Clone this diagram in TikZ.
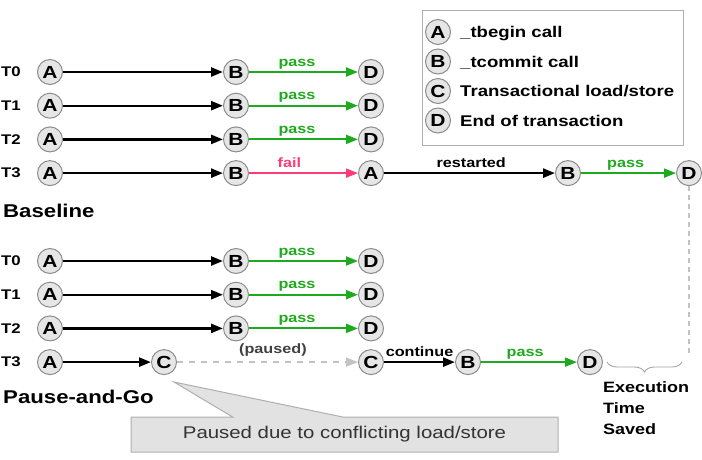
\documentclass[tikz,border=0pt]{standalone}
\usepackage{fontspec}
\setmainfont{Liberation Sans}[FakeStretch=1.2]
\usepackage{xcolor}
\definecolor{pgreen}{RGB}{30,170,30}
\definecolor{fpink}{RGB}{250,60,120}
\definecolor{nfill}{RGB}{230,230,230}
\definecolor{nline}{RGB}{140,140,140}
\definecolor{pgray}{RGB}{195,195,195}
\definecolor{cfill}{RGB}{226,226,226}
\usepackage{tikz}
\usetikzlibrary{arrows.meta,shapes.callouts,positioning,decorations.pathreplacing}

\begin{document}
\begin{tikzpicture}[
  x=1pt,y=-1pt,
  tnode/.style={circle,draw=nline,fill=nfill,line width=1pt,minimum size=25pt,inner sep=0pt,on grid,font=\bfseries\fontsize{17.5}{18}\selectfont},
  run/.style={-{Triangle[length=12pt,width=9pt]},line width=2.4pt,black},
  ok/.style={run,pgreen,line width=2pt},
  bad/.style={run,fpink,line width=2pt},
  wait/.style={-{Triangle[length=12pt,width=9pt]},line width=1.4pt,pgray,dash pattern=on 6pt off 6pt},
  lbl/.style={anchor=base,yshift=6pt,inner sep=0pt,font=\bfseries\fontsize{13.5}{14}\selectfont},
  tlabel/.style={anchor=west,inner sep=0pt,font=\bfseries\fontsize{14}{14}\selectfont},
  heading/.style={anchor=base west,inner sep=0pt,font=\bfseries\fontsize{18.5}{19}\selectfont},
  keytext/.style={anchor=west,inner sep=0pt,text height=11.5pt,text depth=0.5pt,font=\bfseries\fontsize{15.5}{16}\selectfont},
  guide/.style={pgray,line width=1.3pt,dash pattern=on 5pt off 4pt}
]
  \useasboundingbox (0,0) rectangle (702,459);

  \node[tlabel] (l0) at (1,72) {T0};
  \node[tlabel] (l1) at (1,105.7) {T1};
  \node[tlabel] (l2) at (1,139.4) {T2};
  \node[tlabel] (l3) at (1,173.1) {T3};

  \node[tnode] (a0) at (50,72) {A};
  \node[tnode,right=186pt of a0] (b0) {B};
  \node[tnode,right=135pt of b0] (d0) {D};
  \node[tnode,below=33.7pt of a0] (a1) {A};
  \node[tnode,right=186pt of a1] (b1) {B};
  \node[tnode,right=135pt of b1] (d1) {D};
  \node[tnode,below=33.7pt of a1] (a2) {A};
  \node[tnode,right=186pt of a2] (b2) {B};
  \node[tnode,right=135pt of b2] (d2) {D};
  \node[tnode,below=33.7pt of a2] (a3) {A};
  \node[tnode,right=186pt of a3] (b3) {B};
  \node[tnode,right=135pt of b3] (r3) {A};
  \node[tnode,right=197pt of r3] (rb3) {B};
  \node[tnode,right=121pt of rb3] (rd3) {D};

  \node[heading] (base) at (3,217) {Baseline};

  \node[tlabel] (pl0) at (1,261) {T0};
  \node[tlabel] (pl1) at (1,294.7) {T1};
  \node[tlabel] (pl2) at (1,328.4) {T2};
  \node[tlabel] (pl3) at (1,362.1) {T3};

  \node[tnode] (pa0) at (50,261) {A};
  \node[tnode,right=186pt of pa0] (pb0) {B};
  \node[tnode,right=135pt of pb0] (pd0) {D};
  \node[tnode,below=33.7pt of pa0] (pa1) {A};
  \node[tnode,right=186pt of pa1] (pb1) {B};
  \node[tnode,right=135pt of pb1] (pd1) {D};
  \node[tnode,below=33.7pt of pa1] (pa2) {A};
  \node[tnode,right=186pt of pa2] (pb2) {B};
  \node[tnode,right=135pt of pb2] (pd2) {D};
  \node[tnode,below=33.7pt of pa2] (pa3) {A};
  \node[tnode,right=114pt of pa3] (pc3) {C};
  \node[tnode,right=207pt of pc3] (pq3) {C};
  \node[tnode,right=97pt of pq3] (pb3) {B};
  \node[tnode,right=122pt of pb3] (pd3) {D};

  \node[heading] (pause) at (3,403) {Pause-and-Go};

  \draw[draw=nline!70,line width=1pt] (422,10) rectangle (683,145);
  \node[tnode] (ka) at (438,32) {A};
  \node[tnode,below=29.5pt of ka] (kb) {B};
  \node[tnode,below=29.5pt of kb] (kc) {C};
  \node[tnode,below=29.5pt of kc] (kd) {D};
  \node[keytext,right=9pt of ka] (kat) {\_tbegin call};
  \node[keytext,right=9pt of kb] (kbt) {\_tcommit call};
  \node[keytext,right=9pt of kc] (kct) {Transactional load/store};
  \node[keytext,right=9pt of kd] (kdt) {End of transaction};

  \draw[run] (a0) -- (b0);
  \draw[ok] (b0) -- node[lbl,pos=.44]{pass} (d0);
  \draw[run] (a1) -- (b1);
  \draw[ok] (b1) -- node[lbl,pos=.44]{pass} (d1);
  \draw[run] (a2) -- (b2);
  \draw[ok] (b2) -- node[lbl,pos=.44]{pass} (d2);
  \draw[run] (a3) -- (b3);
  \draw[bad] (b3) -- node[lbl,pos=.37]{fail} (r3);
  \draw[run] (r3) -- node[lbl,pos=.51]{restarted} (rb3);
  \draw[ok] (rb3) -- node[lbl,pos=.47]{pass} (rd3);

  \draw[run] (pa0) -- (pb0);
  \draw[ok] (pb0) -- node[lbl,pos=.44]{pass} (pd0);
  \draw[run] (pa1) -- (pb1);
  \draw[ok] (pb1) -- node[lbl,pos=.44]{pass} (pd1);
  \draw[run] (pa2) -- (pb2);
  \draw[ok] (pb2) -- node[lbl,pos=.44]{pass} (pd2);
  \draw[run] (pa3) -- (pc3);
  \draw[wait] (pc3) -- node[lbl,pos=.53,yshift=3pt,text=black!75]{(paused)} (pq3);
  \draw[run] (pq3) -- node[lbl,pos=.5]{continue} (pb3);
  \draw[ok] (pb3) -- node[lbl,pos=.46]{pass} (pd3);

  \coordinate (gap) at (689,357);
  \draw[guide] (rd3.south) -- (gap);
  \draw[nline!80,line width=0.9pt,decorate,decoration={brace,mirror,amplitude=10pt}] (607,362) -- (682,362);
  \node[anchor=north west,inner sep=0pt,align=left,font=\bfseries\fontsize{15}{21}\selectfont] (saved) at (603,381) {Execution\\Time\\Saved};

  \node[rectangle callout,callout absolute pointer={(174,382)},callout pointer width=110pt,fill=cfill,draw=nline!70,line width=1pt,minimum width=427pt,minimum height=35pt,text=black!80,font=\fontsize{17}{17}\selectfont] (note) at (344.5,434.5) {Paused due to conflicting load/store};
\end{tikzpicture}
\end{document}
